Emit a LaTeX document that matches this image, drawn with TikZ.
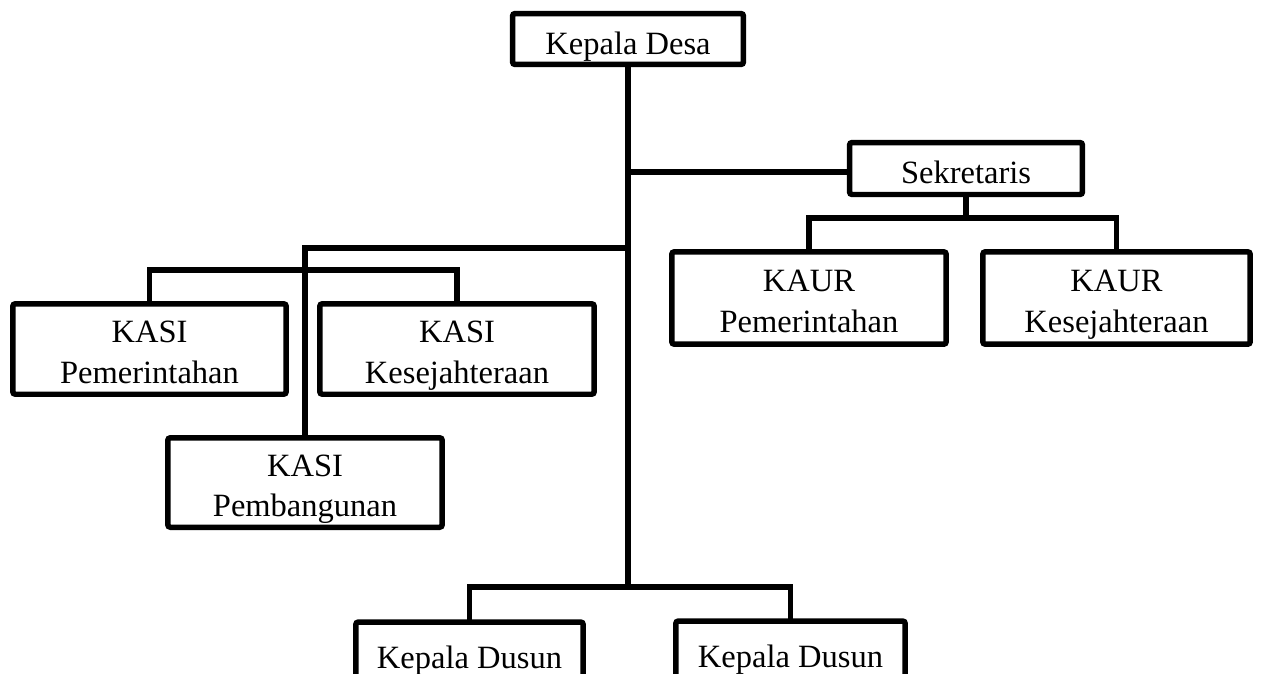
\documentclass[tikz,border=0pt]{standalone}
\usepackage{fontspec}
\setmainfont{Liberation Serif}

\tikzset{
  kotak/.style={draw, line width=0.11cm, rounded corners=1.5pt, inner sep=0pt, align=center, font=\fontsize{18.5}{22.8}\selectfont},
  dualine/.style={text height=1.36cm, text depth=0pt},
  garis/.style={line width=0.11cm, line cap=rect}
}

\begin{document}
\begin{tikzpicture}[x=0.02cm, y=-0.02cm]
    \clip (0,0) rectangle (1263,673);

    % Kepala Desa dan Sekretaris
    \node[kotak, minimum width=4.62cm, minimum height=1.02cm, text height=0.64cm, text depth=0pt] (desa) at (628, 39) {Kepala Desa};
    \node[kotak, minimum width=4.66cm, minimum height=1.04cm, text height=0.58cm, text depth=0pt] (sekr) at (966, 168.5) {Sekretaris};

    % KAUR
    \node[kotak, dualine, minimum width=5.49cm, minimum height=1.85cm] (kaur1) at (809, 298) {KAUR\\Pemerintahan};
    \node[kotak, dualine, minimum width=5.35cm, minimum height=1.85cm] (kaur2) at (1116.5, 298) {KAUR\\Kesejahteraan};

    % KASI
    \node[kotak, dualine, minimum width=5.47cm, minimum height=1.81cm] (kasi1) at (149.5, 349) {KASI\\Pemerintahan};
    \node[kotak, dualine, minimum width=5.49cm, minimum height=1.81cm] (kasi2) at (457, 349) {KASI\\Kesejahteraan};
    \node[kotak, dualine, minimum width=5.49cm, minimum height=1.79cm] (kasi3) at (305, 482.5) {KASI\\Pembangunan};

    % Kepala Dusun
    \node[kotak, minimum width=4.55cm, minimum height=1.56cm, text height=0.28cm, text depth=0pt] (dusun1) at (469.5, 661) {Kepala Dusun};
    \node[kotak, minimum width=4.59cm, minimum height=1.56cm, text height=0.28cm, text depth=0pt] (dusun2) at (790.5, 660) {Kepala Dusun};

    % garis
    \coordinate (jsek) at (628, 172);
    \coordinate (jkasi) at (628, 248);
    \coordinate (jdusun) at (628, 587);
    \coordinate (jkaur) at (966, 218);
    \coordinate (jkasibar) at (305, 270);

    \draw[garis] (desa.south) -- (jdusun);
    \draw[garis] (jsek) -- (jsek -| sekr.west);
    \draw[garis] (sekr.south) -- (jkaur);
    \draw[garis] (kaur1.north) |- (jkaur) -| (kaur2.north);
    \draw[garis] (jkasi) -| (kasi3.north);
    \draw[garis] (kasi1.north) |- (jkasibar) -| (kasi2.north);
    \draw[garis] (dusun1.north) |- (jdusun) -| (dusun2.north);
\end{tikzpicture}
\end{document}
